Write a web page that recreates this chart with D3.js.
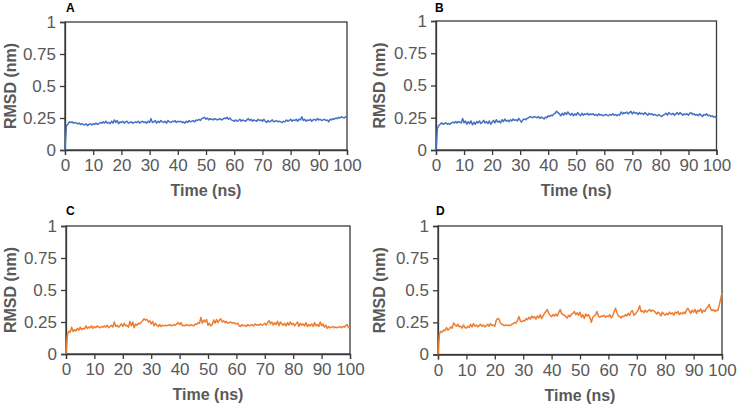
<!DOCTYPE html>
<html>
<head>
<meta charset="utf-8">
<script src="https://cdn.jsdelivr.net/npm/d3@7"></script>
<style>
  html, body { margin: 0; padding: 0; background: #fff; }
  svg { display: block; }
  text { font-family: "Liberation Sans", Arial, sans-serif; }
</style>
</head>
<body>
<svg id="chart" width="738" height="406"></svg>
<script>
// ---------------- DATA ----------------
const panelLabels = ["A", "B", "C", "D"];
const timeStep = 0.5; // ns between samples, first sample at t = 0
const xTicks = [0, 10, 20, 30, 40, 50, 60, 70, 80, 90, 100];
const yTicks = [0, 0.25, 0.5, 0.75, 1];
const yTickLabels = ["0", "0.25", "0.5", "0.75", "1"];
const xTitle = "Time (ns)";
const yTitle = "RMSD (nm)";

const rmsdA = [0,0.19,0.20,0.22,0.215,0.22,0.21,0.215,0.21,0.205,0.21,0.20,0.205,0.20,0.195,0.205,0.19,0.20,0.205,0.195,
0.205,0.20,0.21,0.20,0.205,0.215,0.21,0.22,0.21,0.225,0.21,0.215,0.205,0.225,0.21,0.235,0.215,0.23,0.205,0.22,
0.215,0.225,0.21,0.22,0.225,0.21,0.215,0.22,0.21,0.215,0.22,0.215,0.225,0.21,0.22,0.225,0.215,0.22,0.21,0.225,
0.215,0.245,0.215,0.22,0.23,0.21,0.225,0.215,0.23,0.22,0.215,0.225,0.21,0.23,0.22,0.215,0.225,0.22,0.23,0.215,
0.225,0.22,0.225,0.215,0.22,0.21,0.225,0.215,0.23,0.22,0.225,0.23,0.22,0.235,0.23,0.24,0.23,0.245,0.25,0.255,
0.24,0.25,0.235,0.245,0.24,0.235,0.245,0.24,0.235,0.24,0.245,0.235,0.24,0.25,0.245,0.255,0.24,0.25,0.235,0.23,
0.225,0.235,0.225,0.23,0.24,0.225,0.235,0.23,0.225,0.235,0.245,0.23,0.24,0.225,0.235,0.23,0.225,0.24,0.23,0.235,
0.225,0.24,0.225,0.215,0.23,0.22,0.225,0.235,0.22,0.225,0.23,0.22,0.225,0.22,0.215,0.225,0.22,0.235,0.225,0.23,
0.24,0.225,0.235,0.23,0.24,0.225,0.24,0.235,0.26,0.23,0.24,0.225,0.235,0.23,0.24,0.225,0.235,0.24,0.23,0.245,
0.235,0.24,0.23,0.235,0.24,0.23,0.235,0.22,0.24,0.235,0.245,0.24,0.25,0.245,0.255,0.25,0.26,0.255,0.25,0.26,0.255];

const rmsdB = [0,0.17,0.19,0.20,0.21,0.20,0.205,0.21,0.20,0.205,0.20,0.21,0.215,0.21,0.22,0.21,0.22,0.215,0.21,0.245,
0.21,0.225,0.20,0.22,0.205,0.225,0.195,0.215,0.20,0.22,0.21,0.225,0.205,0.215,0.23,0.21,0.22,0.205,0.225,0.20,
0.215,0.23,0.21,0.235,0.215,0.225,0.21,0.235,0.22,0.24,0.225,0.23,0.22,0.235,0.225,0.24,0.23,0.235,0.225,0.245,
0.23,0.215,0.235,0.24,0.235,0.245,0.25,0.26,0.255,0.25,0.26,0.255,0.25,0.26,0.245,0.255,0.25,0.24,0.255,0.25,
0.265,0.26,0.27,0.265,0.28,0.285,0.30,0.29,0.28,0.265,0.285,0.27,0.29,0.275,0.295,0.28,0.27,0.285,0.265,0.28,
0.27,0.29,0.275,0.265,0.285,0.27,0.28,0.275,0.285,0.27,0.28,0.275,0.28,0.27,0.275,0.265,0.28,0.27,0.275,0.265,
0.27,0.275,0.27,0.265,0.275,0.27,0.28,0.27,0.275,0.265,0.275,0.27,0.295,0.28,0.29,0.285,0.295,0.28,0.29,0.30,
0.28,0.295,0.285,0.29,0.275,0.29,0.28,0.285,0.275,0.29,0.28,0.27,0.285,0.275,0.28,0.27,0.275,0.27,0.265,0.275,
0.265,0.26,0.27,0.275,0.285,0.27,0.29,0.28,0.275,0.285,0.27,0.28,0.29,0.275,0.29,0.28,0.27,0.28,0.275,0.28,
0.27,0.285,0.29,0.275,0.28,0.27,0.275,0.265,0.28,0.27,0.26,0.275,0.27,0.28,0.265,0.27,0.26,0.265,0.255,0.26,0.245];

const rmsdC = [0,0.15,0.18,0.17,0.21,0.175,0.19,0.18,0.20,0.185,0.21,0.19,0.20,0.195,0.22,0.20,0.21,0.205,0.22,0.20,
0.215,0.205,0.22,0.21,0.205,0.215,0.21,0.22,0.21,0.225,0.205,0.215,0.225,0.21,0.25,0.215,0.225,0.21,0.22,0.235,
0.215,0.24,0.22,0.225,0.21,0.255,0.22,0.25,0.205,0.235,0.225,0.24,0.235,0.25,0.26,0.275,0.265,0.27,0.25,0.26,
0.235,0.255,0.22,0.24,0.225,0.215,0.23,0.215,0.225,0.22,0.225,0.22,0.225,0.23,0.22,0.225,0.23,0.225,0.235,0.245,
0.23,0.245,0.22,0.225,0.22,0.23,0.225,0.22,0.23,0.225,0.22,0.235,0.23,0.245,0.24,0.285,0.24,0.265,0.25,0.27,
0.225,0.24,0.22,0.23,0.265,0.24,0.27,0.245,0.265,0.275,0.25,0.26,0.245,0.255,0.24,0.245,0.25,0.24,0.245,0.24,
0.235,0.24,0.22,0.215,0.23,0.22,0.225,0.215,0.23,0.22,0.225,0.23,0.22,0.235,0.225,0.23,0.225,0.235,0.225,0.23,
0.24,0.225,0.245,0.26,0.235,0.25,0.225,0.245,0.23,0.255,0.22,0.25,0.235,0.225,0.24,0.22,0.245,0.225,0.25,0.23,
0.24,0.22,0.235,0.25,0.215,0.24,0.225,0.235,0.22,0.245,0.215,0.23,0.22,0.235,0.215,0.245,0.22,0.23,0.215,0.25,
0.22,0.235,0.21,0.225,0.20,0.215,0.205,0.21,0.215,0.205,0.21,0.205,0.21,0.215,0.205,0.215,0.21,0.22,0.23,0.205,0.21];

const rmsdD = [0,0.16,0.18,0.175,0.19,0.185,0.21,0.19,0.20,0.215,0.205,0.245,0.23,0.22,0.235,0.215,0.22,0.205,0.23,0.21,
0.205,0.22,0.21,0.235,0.215,0.24,0.22,0.23,0.215,0.225,0.235,0.22,0.23,0.215,0.225,0.235,0.22,0.24,0.225,0.23,
0.22,0.265,0.28,0.275,0.245,0.235,0.23,0.225,0.23,0.225,0.23,0.225,0.235,0.24,0.25,0.245,0.265,0.295,0.26,0.255,
0.265,0.26,0.28,0.27,0.29,0.275,0.30,0.285,0.295,0.275,0.30,0.285,0.31,0.28,0.30,0.32,0.335,0.35,0.32,0.305,
0.295,0.31,0.30,0.315,0.30,0.325,0.35,0.32,0.31,0.305,0.295,0.285,0.305,0.295,0.315,0.32,0.335,0.31,0.325,0.305,
0.33,0.29,0.31,0.28,0.315,0.30,0.31,0.285,0.25,0.29,0.30,0.31,0.335,0.30,0.29,0.30,0.295,0.305,0.29,0.30,
0.295,0.31,0.285,0.30,0.33,0.36,0.325,0.30,0.295,0.285,0.30,0.295,0.31,0.30,0.32,0.305,0.335,0.34,0.305,0.315,
0.33,0.345,0.38,0.335,0.34,0.325,0.345,0.33,0.34,0.35,0.335,0.345,0.34,0.33,0.315,0.33,0.32,0.30,0.33,0.315,
0.305,0.32,0.31,0.33,0.315,0.325,0.305,0.33,0.32,0.335,0.31,0.325,0.315,0.33,0.32,0.345,0.36,0.34,0.32,0.345,
0.33,0.35,0.32,0.345,0.335,0.355,0.325,0.345,0.335,0.36,0.37,0.39,0.355,0.34,0.35,0.335,0.345,0.34,0.38,0.43,0.48];

const seriesValues = [rmsdA, rmsdB, rmsdC, rmsdD];
const seriesColors = ["#4472C4", "#4472C4", "#ED7D31", "#ED7D31"];

// ---------------- LAYOUT ----------------
const panels = [
  { left: 65,  right: 347,   top: 22,  bottom: 150,   yTitleX: 16,  labelX: 66,  labelY: 12 },
  { left: 436, right: 716.5, top: 21,  bottom: 150,   yTitleX: 385, labelX: 435, labelY: 12 },
  { left: 66,  right: 350,   top: 226, bottom: 354,   yTitleX: 16,  labelX: 66,  labelY: 215 },
  { left: 438, right: 722,   top: 226, bottom: 354.5, yTitleX: 385, labelX: 436, labelY: 215 }
];

const svg = d3.select("#chart");
const textColor = "#595959";
const axisColor = "#3a3a3a";

panels.forEach((p, i) => {
  const data = seriesValues[i].map((v, k) => ({ t: k * timeStep, v }));
  const x = d3.scaleLinear().domain([0, 100]).range([p.left, p.right]);
  const y = d3.scaleLinear().domain([0, 1]).range([p.bottom, p.top]);
  const g = svg.append("g");

  // plot frame
  g.append("rect")
    .attr("x", p.left).attr("y", p.top)
    .attr("width", p.right - p.left).attr("height", p.bottom - p.top)
    .attr("fill", "none").attr("stroke", axisColor).attr("stroke-width", 1.3);

  // y axis
  const yAxis = g.append("g").attr("transform", `translate(${p.left},0)`)
    .call(d3.axisLeft(y).tickValues(yTicks).tickSize(5).tickPadding(4)
      .tickFormat((d, j) => yTickLabels[j]));
  yAxis.select(".domain").attr("stroke", axisColor).attr("stroke-width", 1.3);
  yAxis.selectAll(".tick line").attr("stroke", axisColor).attr("stroke-width", 1.3);
  yAxis.selectAll(".tick text").attr("fill", textColor)
    .style("font-size", "17px").style("font-family", "Liberation Sans, Arial, sans-serif");

  // x axis
  const xAxis = g.append("g").attr("transform", `translate(0,${p.bottom})`)
    .call(d3.axisBottom(x).tickValues(xTicks).tickSize(5).tickPadding(4).tickFormat(d3.format("d")));
  xAxis.select(".domain").attr("stroke", axisColor).attr("stroke-width", 1.3);
  xAxis.selectAll(".tick line").attr("stroke", axisColor).attr("stroke-width", 1.3);
  xAxis.selectAll(".tick text").attr("fill", textColor)
    .style("font-size", "17px").style("font-family", "Liberation Sans, Arial, sans-serif");

  // line
  const line = d3.line().x(d => x(d.t)).y(d => y(d.v));
  g.append("path").datum(data)
    .attr("d", line)
    .attr("fill", "none")
    .attr("stroke", seriesColors[i])
    .attr("stroke-width", 1.5)
    .attr("stroke-linejoin", "round");

  // axis titles
  g.append("text")
    .attr("x", (p.left + p.right) / 2).attr("y", p.bottom + 46)
    .attr("text-anchor", "middle")
    .attr("fill", textColor).attr("font-weight", "bold").attr("font-size", "16px")
    .text(xTitle);
  g.append("text")
    .attr("transform", `translate(${p.yTitleX},${(p.top + p.bottom) / 2}) rotate(-90)`)
    .attr("text-anchor", "middle")
    .attr("fill", textColor).attr("font-weight", "bold").attr("font-size", "16px")
    .text(yTitle);

  // panel letter
  g.append("text")
    .attr("x", p.labelX).attr("y", p.labelY)
    .attr("fill", "#000").attr("font-weight", "bold").attr("font-size", "12px")
    .text(panelLabels[i]);
});
</script>
</body>
</html>
